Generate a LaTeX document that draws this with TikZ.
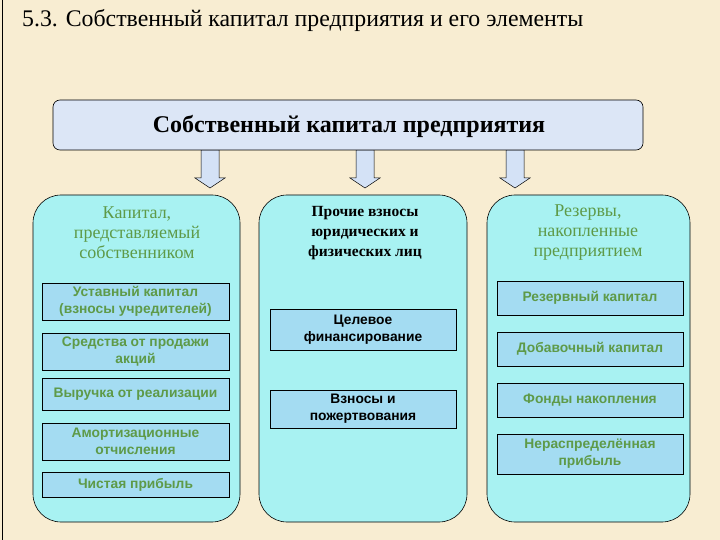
\documentclass[tikz,border=0pt]{standalone}
\usepackage{fontspec}
\setmainfont{Liberation Serif}
\newfontfamily\arialf{Liberation Sans}
\definecolor{bg}{HTML}{F8EDD2}
\definecolor{topf}{HTML}{DCE6F6}
\definecolor{colf}{HTML}{A8F2F2}
\definecolor{inf}{HTML}{A4DCF2}
\definecolor{grn}{HTML}{5E9A48}
\definecolor{arrf}{HTML}{D4E2F6}
\tikzset{
 col/.style={draw=black,fill=colf,rounded corners=28pt,line width=0.6pt},
 inbox/.style={draw=black,fill=inf,line width=0.6pt,align=center,inner sep=1pt,font=\arialf\bfseries\fontsize{13.8}{17}\selectfont},
 ghead/.style={align=center,text=grn,font=\fontsize{18}{20}\selectfont},
 bighead/.style={align=center,text=black,font=\bfseries\fontsize{15.5}{20}\selectfont},
 barrowf/.style={draw=black,fill=arrf,line width=0.5pt}
}
\newcommand\blockarrow[2]{\draw[barrowf] (#1-9,#2) -- (#1+9,#2) -- (#1+9,#2+28) -- (#1+15,#2+28) -- (#1,#2+38) -- (#1-15,#2+28) -- (#1-9,#2+28) -- cycle;}
\begin{document}
\begin{tikzpicture}[x=1pt,y=-1pt]
\useasboundingbox (0,0) rectangle (720,540);
\fill[bg] (0,0) rectangle (720,540);
\draw[line width=1pt] (2,0) -- (2,540);
\node[anchor=west,font=\fontsize{23.8}{26}\selectfont,inner sep=0pt] (title) at (22,21) {5.3. Собственный капитал предприятия и его элементы};
\blockarrow{210}{150}
\blockarrow{365}{150}
\blockarrow{515}{150}
\draw[fill=topf,rounded corners=7pt,line width=0.6pt] (53,100) rectangle (643,150);
\node[font=\bfseries\fontsize{24}{26}\selectfont] (top) at (349,126) {Собственный капитал предприятия};
\draw[col] (33,195) rectangle (240,522);
\draw[col] (259,195) rectangle (467,522);
\draw[col] (487,195) rectangle (690,522);
\node[ghead] (h1) at (137,233) {Капитал,\\представляемый\\собственником};
\node[bighead] (h2) at (365,233) {Прочие взносы\\юридических и\\физических лиц};
\node[ghead] (h3) at (588,233) {Резервы,\\накопленные\\предприятием};
\begin{scope}[every node/.style={inbox,text=grn,minimum width=187pt}]
\node[minimum height=37pt] (l1) at (135.5,301.5) {Уставный капитал\\(взносы учредителей)};
\node[minimum height=37pt] (l2) at (135.5,351.5) {Средства от продажи\\акций};
\node[minimum height=32pt] (l3) at (135.5,394) {Выручка от реализации};
\node[minimum height=37pt] (l4) at (135.5,441.5) {Амортизационные\\отчисления};
\node[minimum height=25pt] (l5) at (135.5,485) {Чистая прибыль};
\node[minimum width=186pt,minimum height=34pt] (r1) at (590,298) {Резервный капитал};
\node[minimum width=186pt,minimum height=34pt] (r2) at (590,349) {Добавочный капитал};
\node[minimum width=186pt,minimum height=34pt] (r3) at (590,400) {Фонды накопления};
\node[minimum width=186pt,minimum height=40pt] (r4) at (590,454) {Нераспределённая\\прибыль};
\end{scope}
\node[inbox,text=black,minimum width=186pt,minimum height=41pt] (m1) at (363,329.5) {Целевое\\финансирование};
\node[inbox,text=black,minimum width=186pt,minimum height=38pt] (m2) at (363,409) {Взносы и\\пожертвования};
\end{tikzpicture}
\end{document}
